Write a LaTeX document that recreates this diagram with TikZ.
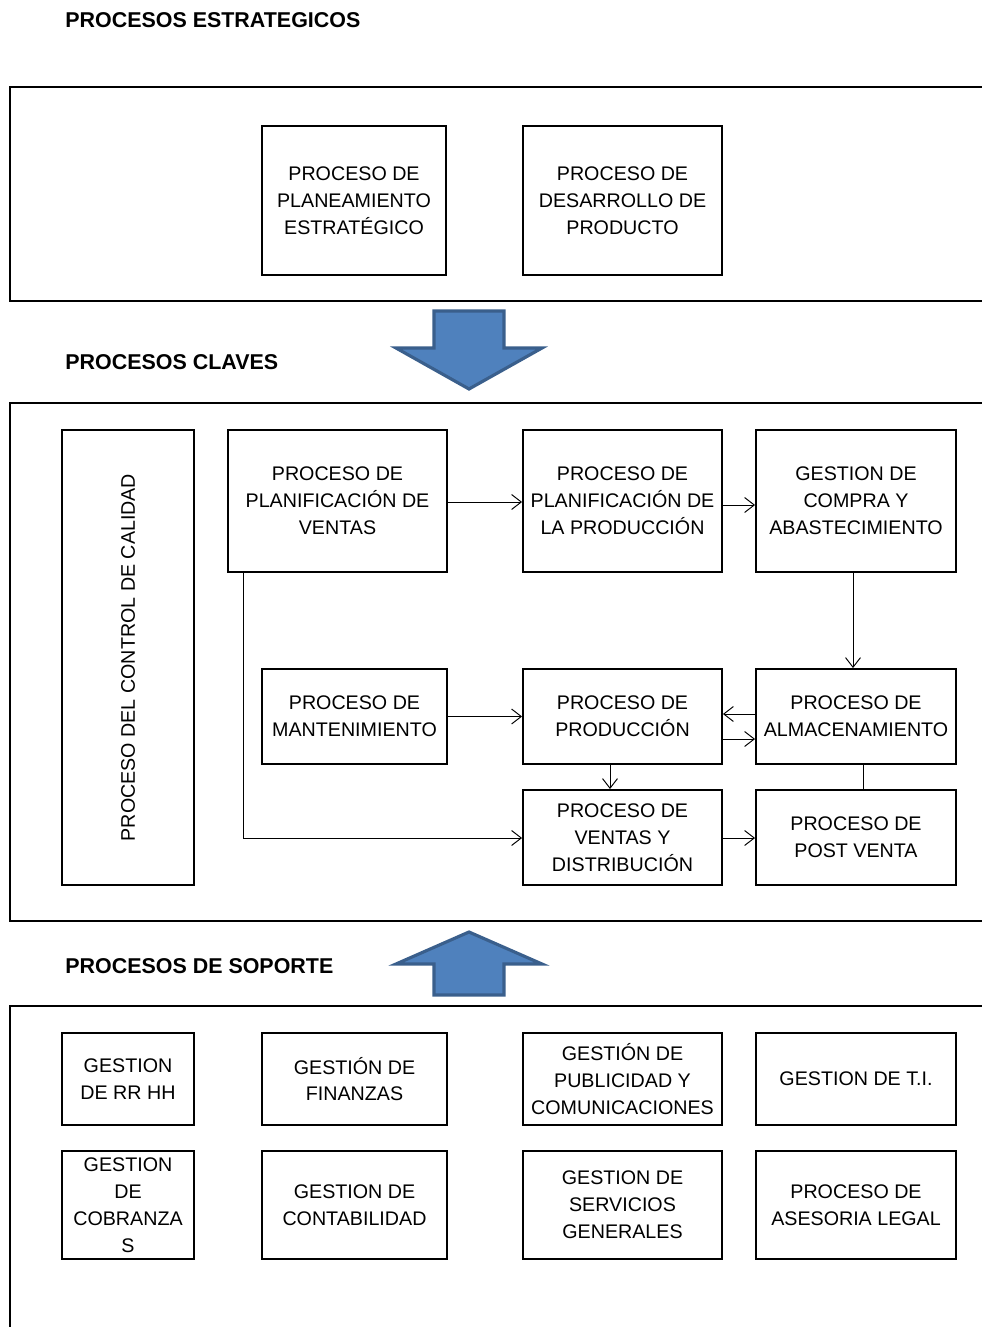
\documentclass[tikz,border=0pt]{standalone}
\usepackage{fontspec}
\setmainfont{Liberation Sans}
\usetikzlibrary{arrows.meta}
\definecolor{arrowblue}{HTML}{4F81BD}
\definecolor{arrowedge}{HTML}{3A5F8C}

\begin{document}
\begin{tikzpicture}[x=0.02cm, y=-0.02cm,
        proc/.style={draw, line width=1.1pt, align=center, inner sep=2pt,
            font=\fontsize{11.2}{15.3}\selectfont},
        frame/.style={line width=1.3pt},
        sectitle/.style={anchor=west, inner sep=0pt, font=\fontsize{12.2}{14}\selectfont\bfseries},
        conn/.style={line width=0.55pt, -{Straight Barb[length=5.5pt,width=8.5pt]}},
        bigarrow/.style={fill=arrowblue, draw=arrowedge, line width=1.8pt}]
        \useasboundingbox (0,0) rectangle (982,1327);

        \node[sectitle] (tstrat) at (65,20) {PROCESOS ESTRATEGICOS};
        \node[sectitle] (tclave) at (65,362) {PROCESOS CLAVES};
        \node[sectitle] (tsoporte) at (65,966) {PROCESOS DE SOPORTE};

        \draw[frame] (995,87) -| (10,301) -- (995,301);
        \draw[frame] (995,403) -| (10,921) -- (995,921);
        \draw[frame] (995,1006) -| (10,1335);

        \draw[bigarrow] (434,311) -- (504,311) -- (504,348) -- (542,348) -- (469,389)
            -- (396,348) -- (434,348) -- cycle;
        \draw[bigarrow] (469,932) -- (542,964) -- (504,964) -- (504,995) -- (434,995)
            -- (434,964) -- (396,964) -- cycle;

        \node[proc, minimum width=3.68cm, minimum height=2.98cm] (plane) at (354,200.5)
            {PROCESO DE\\PLANEAMIENTO\\ESTRATÉGICO};
        \node[proc, minimum width=3.98cm, minimum height=2.98cm] (desar) at (622.5,200.5)
            {PROCESO DE\\DESARROLLO DE\\PRODUCTO};

        \node[proc, rotate=90, minimum width=9.1cm, minimum height=2.64cm] (control) at (128,657.5)
            {PROCESO DEL CONTROL DE CALIDAD};
        \node[proc, minimum width=4.38cm, minimum height=2.84cm] (planven) at (337.5,501)
            {PROCESO DE\\PLANIFICACIÓN DE\\VENTAS};
        \node[proc, minimum width=3.98cm, minimum height=2.84cm] (planprod) at (622.5,501)
            {PROCESO DE\\PLANIFICACIÓN DE\\LA PRODUCCIÓN};
        \node[proc, minimum width=4cm, minimum height=2.84cm] (compra) at (856,501)
            {GESTION DE\\COMPRA Y\\ABASTECIMIENTO};
        \node[proc, minimum width=3.7cm, minimum height=1.9cm] (mante) at (354.5,716.5)
            {PROCESO DE\\MANTENIMIENTO};
        \node[proc, minimum width=3.98cm, minimum height=1.9cm] (produc) at (622.5,716.5)
            {PROCESO DE\\PRODUCCIÓN};
        \node[proc, minimum width=4cm, minimum height=1.9cm] (almac) at (856,716.5)
            {PROCESO DE\\ALMACENAMIENTO};
        \node[proc, minimum width=3.98cm, minimum height=1.9cm] (ventas) at (622.5,837.5)
            {PROCESO DE\\VENTAS Y\\DISTRIBUCIÓN};
        \node[proc, minimum width=4cm, minimum height=1.9cm] (postv) at (856,837.5)
            {PROCESO DE\\POST VENTA};

        \draw[conn] (planven.east |- 0,502) -- (planprod.west |- 0,502);
        \draw[conn] (planprod.east |- 0,505) -- (compra.west |- 0,505);
        \draw[conn] (compra.south -| 853,0) -- (almac.north -| 853,0);
        \draw[conn] (mante.east) -- (produc.west);
        \draw[conn] (almac.west |- 0,714) -- (produc.east |- 0,714);
        \draw[conn] (produc.east |- 0,739) -- (almac.west |- 0,739);
        \draw[conn] (produc.south -| 610,0) -- (ventas.north -| 610,0);
        \draw[line width=0.55pt] (almac.south -| 863,0) -- (postv.north -| 863,0);
        \draw[conn] (ventas.east |- 0,838) -- (postv.west |- 0,838);
        \draw[conn] (planven.south -| 243,0) |- (ventas.west |- 0,838);

        \node[proc, minimum width=2.64cm, minimum height=1.84cm] (rrhh) at (128,1079)
            {GESTION\\DE RR HH};
        \node[proc, minimum width=3.7cm, minimum height=1.84cm] (finan) at (354.5,1079)
            {GESTIÓN DE\\FINANZAS};
        \node[proc, minimum width=3.98cm, minimum height=1.84cm] (publi) at (622.5,1079)
            {GESTIÓN DE\\PUBLICIDAD Y\\COMUNICACIONES};
        \node[proc, minimum width=4cm, minimum height=1.84cm] (ti) at (856,1079)
            {GESTION DE T.I.};
        \node[proc, minimum width=2.64cm, minimum height=2.16cm] (cobra) at (128,1205)
            {GESTION\\DE\\COBRANZA\\S};
        \node[proc, minimum width=3.7cm, minimum height=2.16cm] (conta) at (354.5,1205)
            {GESTION DE\\CONTABILIDAD};
        \node[proc, minimum width=3.98cm, minimum height=2.16cm] (servi) at (622.5,1205)
            {GESTION DE\\SERVICIOS\\GENERALES};
        \node[proc, minimum width=4cm, minimum height=2.16cm] (legal) at (856,1205)
            {PROCESO DE\\ASESORIA LEGAL};
    \end{tikzpicture}
\end{document}
